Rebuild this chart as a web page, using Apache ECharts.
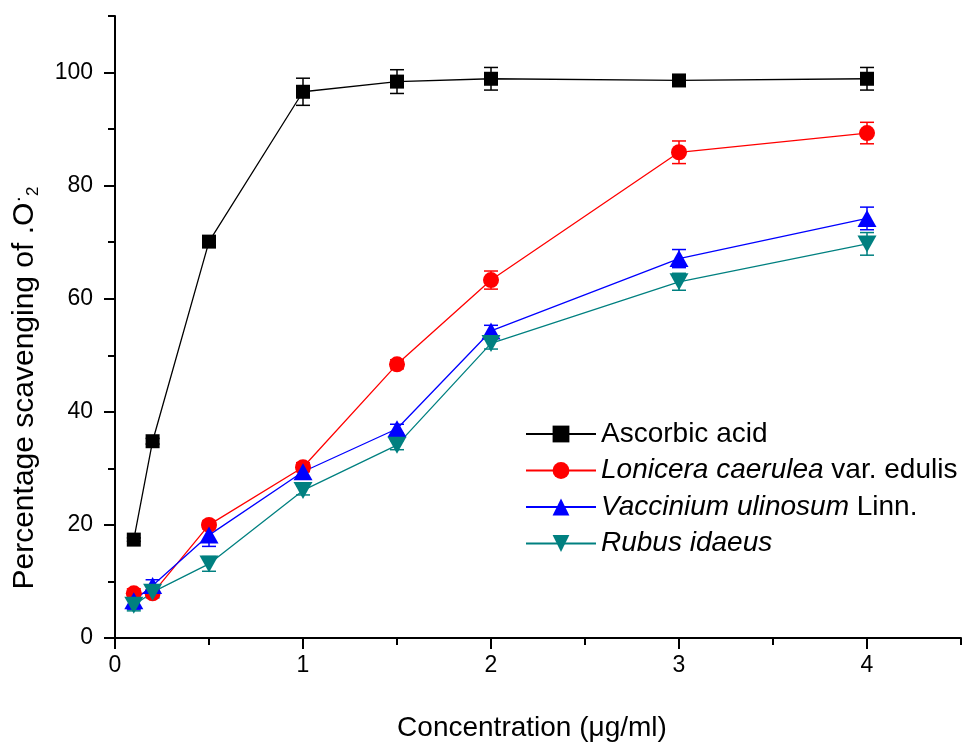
<!DOCTYPE html>
<html>
<head>
    <meta charset="utf-8">
    <title>Percentage scavenging of .O2</title>
    <script src="https://cdn.jsdelivr.net/npm/echarts@6/dist/echarts.min.js"></script>
    <style>
        html, body {
            margin: 0;
            padding: 0;
            background: #fff;
        }

        #chart {
            width: 978px;
            height: 744px;
        }
    </style>
</head>
<body>
<div id="chart"></div>
<script>
    // 浓度（横轴）
    const concentrations = [0.1, 0.2, 0.5, 1, 1.5, 2, 3, 4];

    // 各组清除率
    const ascorbicAcid = [17.4, 34.8, 70.1, 96.6, 98.4, 98.9, 98.6, 98.9];
    const lonicera = [7.9, 7.9, 20.0, 30.2, 48.4, 63.3, 85.9, 89.3];
    const vaccinium = [6.6, 9.3, 18.2, 29.4, 37.0, 54.3, 67.1, 74.2];
    const rubus = [5.8, 8.1, 13.1, 26.1, 34.1, 52.1, 63.0, 69.7];

    // 误差
    const ascorbicErr = [0.3, 0.5, 0.5, 2.4, 2.1, 2.0, 0.4, 2.0];
    const loniceraErr = [0.8, 0.6, 0.7, 0.8, 0.8, 1.6, 2.0, 1.9];
    const vacciniumErr = [1.5, 1.0, 2.0, 1.0, 0.8, 1.0, 1.6, 2.0];
    const rubusErr = [1.0, 1.0, 1.3, 0.8, 0.8, 1.0, 1.5, 2.0];

    // 刻度
    const xMajorTicks = [0, 1, 2, 3, 4];
    const xMinorTicks = [0.5, 1.5, 2.5, 3.5, 4.5];
    const yMajorTicks = [0, 20, 40, 60, 80, 100];
    const yMinorTicks = [10, 30, 50, 70, 90, 110];

    const FONT = "'Liberation Sans', Arial, sans-serif";

    const groups = [
        {name: 'Ascorbic acid', values: ascorbicAcid, err: ascorbicErr, color: '#000000', symbol: 'rect', size: 14, rotate: 0},
        {name: 'Lonicera caerulea var. edulis', values: lonicera, err: loniceraErr, color: '#ff0000', symbol: 'circle', size: 16, rotate: 0},
        {name: 'Vaccinium ulinosum Linn.', values: vaccinium, err: vacciniumErr, color: '#0000ff', symbol: 'triangle', size: [19, 17], rotate: 0},
        {name: 'Rubus idaeus', values: rubus, err: rubusErr, color: '#008080', symbol: 'triangle', size: [19, 17], rotate: 180}
    ];

    // 图例文字（斜体部分）
    const legendLabels = {
        'Ascorbic acid': 'Ascorbic acid',
        'Lonicera caerulea var. edulis': '{i|Lonicera caerulea} var. edulis',
        'Vaccinium ulinosum Linn.': '{i|Vaccinium ulinosum} Linn.',
        'Rubus idaeus': '{i|Rubus idaeus}'
    };


    // 误差线
    function renderErrorBar(color) {
        return function (params, api) {
            let x = api.value(0);
            let y = api.value(1);
            let e = api.value(2);
            let top = api.coord([x, y + e]);
            let bottom = api.coord([x, y - e]);
            let half = 7;
            let style = {stroke: color, lineWidth: 1.5};
            return {
                type: 'group',
                children: [
                    {type: 'line', shape: {x1: top[0], y1: top[1], x2: bottom[0], y2: bottom[1]}, style: style},
                    {type: 'line', shape: {x1: top[0] - half, y1: top[1], x2: top[0] + half, y2: top[1]}, style: style},
                    {type: 'line', shape: {x1: bottom[0] - half, y1: bottom[1], x2: bottom[0] + half, y2: bottom[1]}, style: style}
                ]
            };
        };
    }


    function buildSeries() {
        let series = [];
        groups.forEach(function (g) {
            series.push({
                name: g.name + ' err',
                type: 'custom',
                xAxisIndex: 0,
                yAxisIndex: 0,
                z: 2,
                renderItem: renderErrorBar(g.color),
                encode: {x: 0, y: 1},
                data: concentrations.map(function (c, i) {
                    return [c, g.values[i], g.err[i]];
                })
            });
        });
        groups.forEach(function (g) {
            series.push({
                name: g.name,
                type: 'line',
                xAxisIndex: 0,
                yAxisIndex: 0,
                z: 3,
                symbol: g.symbol,
                symbolSize: g.size,
                symbolRotate: g.rotate,
                lineStyle: {color: g.color, width: 1.3},
                itemStyle: {color: g.color},
                data: concentrations.map(function (c, i) {
                    return [c, g.values[i]];
                })
            });
        });
        return series;
    }


    let option = {
        animation: false,
        textStyle: {fontFamily: FONT, color: '#000'},
        grid: {
            left: 115,
            right: 17,
            top: 16,
            bottom: 106,
            containLabel: false,
            outerBoundsMode: 'none'
        },
        legend: {
            data: groups.map(function (g) {
                return g.name;
            }),
            orient: 'vertical',
            left: 520,
            top: 414,
            itemWidth: 70,
            itemHeight: 21,
            itemGap: 6.5,
            selectedMode: false,
            formatter: function (name) {
                return legendLabels[name];
            },
            textStyle: {
                fontFamily: FONT,
                fontSize: 28,
                lineHeight: 30,
                color: '#000',
                rich: {
                    i: {fontFamily: FONT, fontSize: 28, lineHeight: 30, fontStyle: 'italic', color: '#000'}
                }
            }
        },
        xAxis: [
            {
                type: 'value',
                min: 0,
                max: 4.5,
                position: 'bottom',
                name: 'Concentration (μg/ml)',
                nameLocation: 'middle',
                nameGap: 76,
                nameTextStyle: {fontFamily: FONT, fontSize: 28, color: '#000', padding: [0, 12, 0, 0]},
                axisLine: {show: true, onZero: false, lineStyle: {color: '#000', width: 2}},
                axisTick: {show: true, inside: false, length: 11, customValues: xMajorTicks, lineStyle: {color: '#000', width: 2}},
                axisLabel: {fontFamily: FONT, fontSize: 23, color: '#000', margin: 16, customValues: xMajorTicks},
                splitLine: {show: false}
            },
            {
                type: 'value',
                min: 0,
                max: 4.5,
                position: 'bottom',
                axisLine: {show: false},
                axisTick: {show: true, inside: false, length: 7, customValues: xMinorTicks, lineStyle: {color: '#000', width: 2}},
                axisLabel: {show: false},
                splitLine: {show: false}
            }
        ],
        yAxis: [
            {
                type: 'value',
                min: 0,
                max: 110,
                position: 'left',
                name: 'Percentage scavenging of .O{sup|·}{sub|2}',
                nameLocation: 'middle',
                nameRotate: 90,
                nameGap: 73,
                nameTextStyle: {
                    fontFamily: FONT,
                    fontSize: 30,
                    lineHeight: 34,
                    color: '#000',
                    padding: [0, 122, 0, 0],
                    rich: {
                        sup: {fontFamily: FONT, fontSize: 20, lineHeight: 18, verticalAlign: 'top', color: '#000'},
                        sub: {fontFamily: FONT, fontSize: 17, lineHeight: 18, verticalAlign: 'bottom', color: '#000'}
                    }
                },
                axisLine: {show: true, onZero: false, lineStyle: {color: '#000', width: 2}},
                axisTick: {show: true, inside: false, length: 11, customValues: yMajorTicks, lineStyle: {color: '#000', width: 2}},
                axisLabel: {fontFamily: FONT, fontSize: 23, color: '#000', margin: 22, customValues: yMajorTicks},
                splitLine: {show: false}
            },
            {
                type: 'value',
                min: 0,
                max: 110,
                position: 'left',
                axisLine: {show: false},
                axisTick: {show: true, inside: false, length: 7, customValues: yMinorTicks, lineStyle: {color: '#000', width: 2}},
                axisLabel: {show: false},
                splitLine: {show: false}
            }
        ],
        series: buildSeries()
    };

    let chart = echarts.init(document.getElementById('chart'));
    chart.setOption(option);

    window.onresize = function () {
        chart.resize();
    };
</script>
</body>
</html>
